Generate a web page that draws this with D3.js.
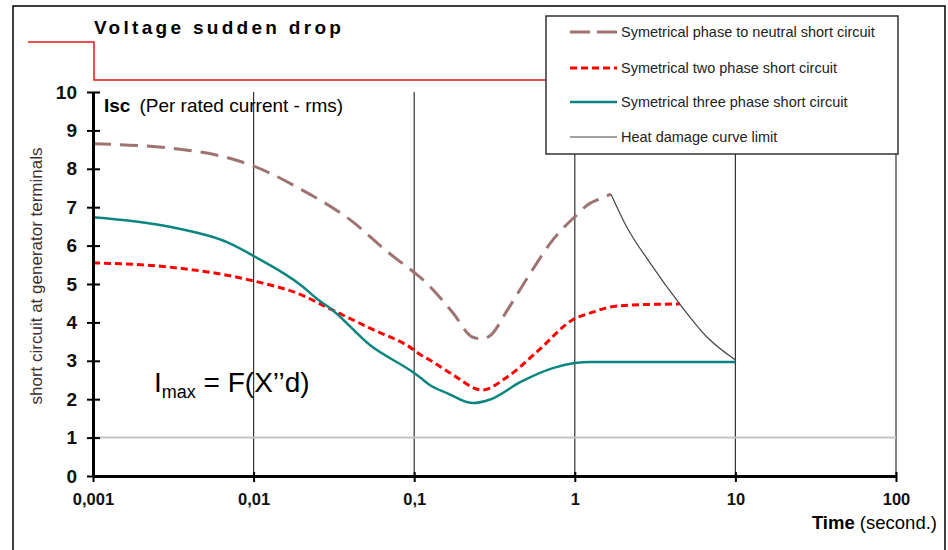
<!DOCTYPE html>
<html>
<head>
<meta charset="utf-8">
<script src="https://cdn.jsdelivr.net/npm/d3@7"></script>
<style>
  body { margin: 0; background: #fff; }
  svg { font-family: Arial, "Liberation Sans", sans-serif; }
</style>
</head>
<body>
<svg id="chart"></svg>
<script>
// data: [time (s), current (per rated)]
const phaseNeutral = [
    [0.001, 8.65], [0.003, 8.54], [0.007, 8.28], [0.01, 8.07], [0.02, 7.45], [0.04, 6.67],
    [0.07, 5.8], [0.1, 5.3], [0.11, 5.16], [0.175, 4.24], [0.23, 3.62], [0.264, 3.57],
    [0.3, 3.67], [0.38, 4.32], [0.53, 5.29], [0.73, 6.15], [1.0, 6.75], [1.24, 7.1],
    [1.38, 7.19], [1.68, 7.34]
];
const twoPhase = [
    [0.001, 5.55], [0.003, 5.44], [0.01, 5.08], [0.02, 4.71], [0.03, 4.35], [0.053, 3.85],
    [0.1, 3.28], [0.11, 3.15], [0.125, 3.02], [0.175, 2.63], [0.264, 2.24], [0.38, 2.58],
    [0.58, 3.23], [1.0, 4.1], [1.24, 4.24], [1.66, 4.4], [2.2, 4.45], [4.5, 4.48]
];
const threePhase = [
    [0.001, 6.74], [0.003, 6.49], [0.007, 6.07], [0.01, 5.73], [0.02, 4.95], [0.025, 4.6],
    [0.03, 4.37], [0.053, 3.41], [0.1, 2.68], [0.11, 2.55], [0.125, 2.37], [0.16, 2.16],
    [0.23, 1.9], [0.3, 2.0], [0.46, 2.45], [0.73, 2.81], [1.0, 2.94], [1.24, 2.97], [10, 2.97]
];
const heatLimit = [
    [1.68, 7.34], [2.11, 6.48], [2.94, 5.55], [4.5, 4.48], [6.65, 3.62], [10, 3.02]
];
const xTicks = [0.001, 0.01, 0.1, 1, 10, 100];
const yTicks = [0, 1, 2, 3, 4, 5, 6, 7, 8, 9, 10];
const refLevel = 1;
const legendLabels = [
    'Symetrical phase to neutral short circuit',
    'Symetrical two phase short circuit',
    'Symetrical three phase short circuit',
    'Heat damage curve limit'
];

// window constants
const width = 948;
const height = 550;

const svg = d3.select('#chart')
    .attr('width', width)
    .attr('height', height);

const x = d3.scaleLog().domain([0.001, 100]).range([93, 896]);
const y = d3.scaleLinear().domain([0, 10]).range([476, 92]);

// outer frame
svg.append('rect')
    .attr('x', 13).attr('y', 6)
    .attr('width', 932).attr('height', 560)
    .attr('fill', 'none')
    .attr('stroke', '#000')
    .attr('stroke-width', 1.5);

// voltage drop trace
svg.append('path')
    .attr('d', `M28,42H${x(0.001) + 1}V80H546`)
    .attr('fill', 'none')
    .attr('stroke', '#e41a1a')
    .attr('stroke-width', 1.5);

svg.append('text')
    .attr('x', 94).attr('y', 34)
    .attr('font-size', 19)
    .attr('font-weight', 'bold')
    .attr('letter-spacing', 3.3)
    .text('Voltage sudden drop');

// vertical grid
svg.append('g')
    .selectAll('line')
    .data(xTicks.slice(1))
    .enter()
    .append('line')
        .attr('x1', d => x(d)).attr('x2', d => x(d))
        .attr('y1', y(10)).attr('y2', y(0))
        .attr('stroke', '#333')
        .attr('stroke-width', 1.2);

// 1 p.u. reference
svg.append('line')
    .attr('x1', x(0.001)).attr('x2', x(100))
    .attr('y1', y(refLevel)).attr('y2', y(refLevel))
    .attr('stroke', '#c4c4c4')
    .attr('stroke-width', 2);

// curves
const line = d3.line()
    .x(d => x(d[0]))
    .y(d => y(d[1]))
    .curve(d3.curveMonotoneX);

const series = [
    { data: phaseNeutral, color: '#9e7472', width: 3, dash: '18,9' },
    { data: twoPhase, color: '#ff0000', width: 3, dash: '7,4' },
    { data: threePhase, color: '#0b8580', width: 2.5, dash: null },
    { data: heatLimit, color: '#444', width: 1.2, dash: null }
];

svg.append('g')
    .selectAll('path')
    .data(series)
    .enter()
    .append('path')
        .attr('d', d => line(d.data))
        .attr('fill', 'none')
        .attr('stroke', d => d.color)
        .attr('stroke-width', d => d.width)
        .attr('stroke-dasharray', d => d.dash);

// axes
const yAxis = svg.append('g')
    .attr('transform', `translate(${x(0.001)},0)`)
    .call(d3.axisLeft(y).tickValues(yTicks).tickSize(6).tickSizeOuter(0).tickPadding(10));
yAxis.select('.domain').attr('stroke', '#000').attr('stroke-width', 3);
yAxis.selectAll('.tick line').attr('x2', -6).attr('x1', 7).attr('stroke-width', 2);
yAxis.selectAll('.tick text')
    .attr('font-size', 19)
    .attr('font-weight', 'bold')
    .attr('fill', '#111');

const xAxis = svg.append('g')
    .attr('transform', `translate(0,${y(0)})`)
    .call(d3.axisBottom(x).tickValues(xTicks).tickSize(6).tickSizeOuter(0).tickPadding(11)
        .tickFormat(d => String(d).replace('.', ',')));
xAxis.select('.domain').attr('stroke', '#000').attr('stroke-width', 3);
xAxis.selectAll('.tick line').attr('y1', -4).attr('stroke-width', 2);
xAxis.selectAll('.tick text')
    .attr('font-size', 16.5)
    .attr('font-weight', 'bold')
    .attr('fill', '#111');

// axis titles
svg.append('text')
    .attr('transform', 'translate(42,276) rotate(-90)')
    .attr('text-anchor', 'middle')
    .attr('font-size', 17)
    .attr('fill', '#3a3030')
    .text('short circuit at generator terminals');

const isc = svg.append('text')
    .attr('x', 104).attr('y', 112)
    .attr('font-size', 19);
isc.append('tspan').attr('font-weight', 'bold').text('Isc');
isc.append('tspan').attr('dx', 9).text('(Per rated current - rms)');

const timeLabel = svg.append('text')
    .attr('x', 937).attr('y', 529)
    .attr('text-anchor', 'end')
    .attr('font-size', 18.5);
timeLabel.append('tspan').attr('font-weight', 'bold').text('Time');
timeLabel.append('tspan').text(' (second.)');

const imax = svg.append('text')
    .attr('x', 154).attr('y', 392)
    .attr('font-size', 28);
imax.append('tspan').text('I');
imax.append('tspan').attr('font-size', 18).attr('dy', 6).text('max');
imax.append('tspan').attr('dy', -6).text(' = F(X’’d)');

// legend
const legend = svg.append('g');
legend.append('rect')
    .attr('x', 546).attr('y', 16)
    .attr('width', 352).attr('height', 138)
    .attr('fill', '#fff')
    .attr('stroke', '#333')
    .attr('stroke-width', 1.5);

const rows = legend.selectAll('g.row')
    .data(series)
    .enter()
    .append('g')
        .attr('class', 'row')
        .attr('transform', (d, i) => `translate(0,${[32, 68, 102, 137][i]})`);
rows.append('line')
    .attr('x1', 570).attr('x2', 617)
    .attr('stroke', d => d.color)
    .attr('stroke-width', (d, i) => i === 3 ? 1 : d.width)
    .attr('stroke-dasharray', (d, i) => i === 0 ? '20,7' : d.dash);
rows.append('text')
    .attr('x', 621).attr('dy', '0.35em')
    .attr('font-size', 14.5)
    .attr('fill', '#222')
    .text((d, i) => legendLabels[i]);
</script>
</body>
</html>
